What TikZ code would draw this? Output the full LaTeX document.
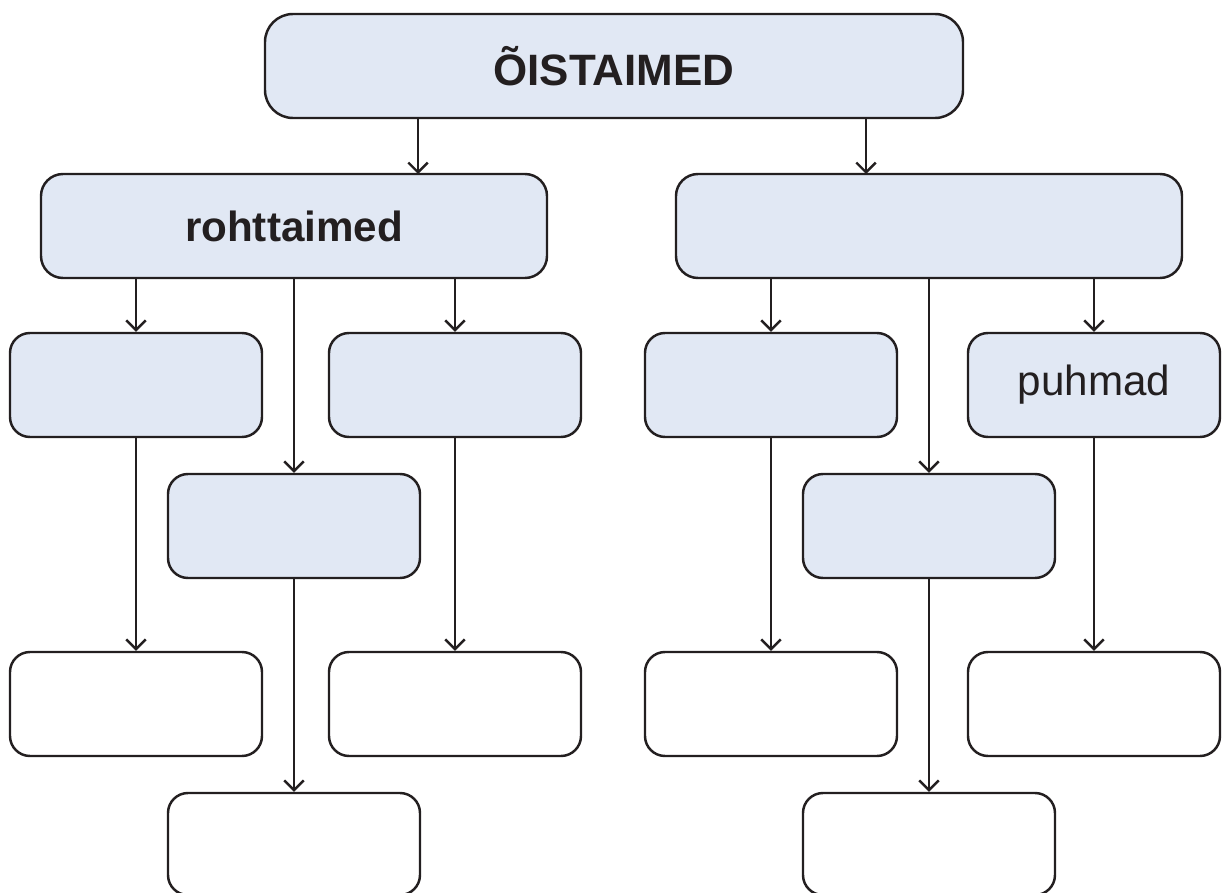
\documentclass[tikz,border=0pt]{standalone}
\usepackage{fontspec}
\setmainfont{Liberation Sans}
\usetikzlibrary{positioning,arrows.meta}
\definecolor{boxfill}{HTML}{E1E8F4}
\definecolor{ink}{HTML}{231F20}

\begin{document}
\begin{tikzpicture}[x=0.2mm,y=-0.2mm]
\tikzstyle{group}=[rectangle, rounded corners=4mm, draw=ink, line width=1.4pt, fill=boxfill, minimum width=50.4mm, minimum height=20.8mm, inner sep=0pt, text=ink, font=\fontsize{24}{28}\selectfont]
\tikzstyle{blank}=[group, fill=white]
\tikzstyle{wide}=[group, minimum width=101.2mm, rounded corners=4.4mm]
\tikzstyle{connect}=[-{Straight Barb[length=5.5pt,width=11pt]}, draw=ink, line width=1.4pt]

	\useasboundingbox (0,0) rectangle (1222,893);

	\node[group, minimum width=139.6mm, rounded corners=5.6mm, font=\bfseries\fontsize{25}{30}\selectfont] (top) at (614,66) {ÕISTAIMED};

	\node[wide, font=\bfseries\fontsize{24}{28}\selectfont] (herb) at (294,226) {rohttaimed};
	\node[wide] (wood) at (929,226) {};
	\coordinate (herbin) at (418,174);
	\coordinate (woodin) at (866,174);

	\node[group] (h1) at (136,385) {};
	\node[group] (h2) at (294,526) {};
	\node[group] (h3) at (455,385) {};
	\node[blank] (h1b) at (136,704) {};
	\node[blank, minimum height=20.4mm] (h2b) at (294,844) {};
	\node[blank] (h3b) at (455,704) {};

	\node[group] (w1) at (771,385) {};
	\node[group] (w2) at (929,526) {};
	\node[group] (w3) at (1094,385) {puhmad};
	\node[blank] (w1b) at (771,704) {};
	\node[blank, minimum height=20.4mm] (w2b) at (929,844) {};
	\node[blank] (w3b) at (1094,704) {};

	\path
		(top.south -| herbin) edge [connect] (herbin)
		(top.south -| woodin) edge [connect] (woodin)
		(herb.south -| h1.north) edge [connect] (h1.north)
		(herb.south -| h2.north) edge [connect] (h2.north)
		(herb.south -| h3.north) edge [connect] (h3.north)
		(h1.south) edge [connect] (h1b.north)
		(h2.south) edge [connect] (h2b.north)
		(h3.south) edge [connect] (h3b.north)
		(wood.south -| w1.north) edge [connect] (w1.north)
		(wood.south -| w2.north) edge [connect] (w2.north)
		(wood.south -| w3.north) edge [connect] (w3.north)
		(w1.south) edge [connect] (w1b.north)
		(w2.south) edge [connect] (w2b.north)
		(w3.south) edge [connect] (w3b.north);

\end{tikzpicture}
\end{document}
